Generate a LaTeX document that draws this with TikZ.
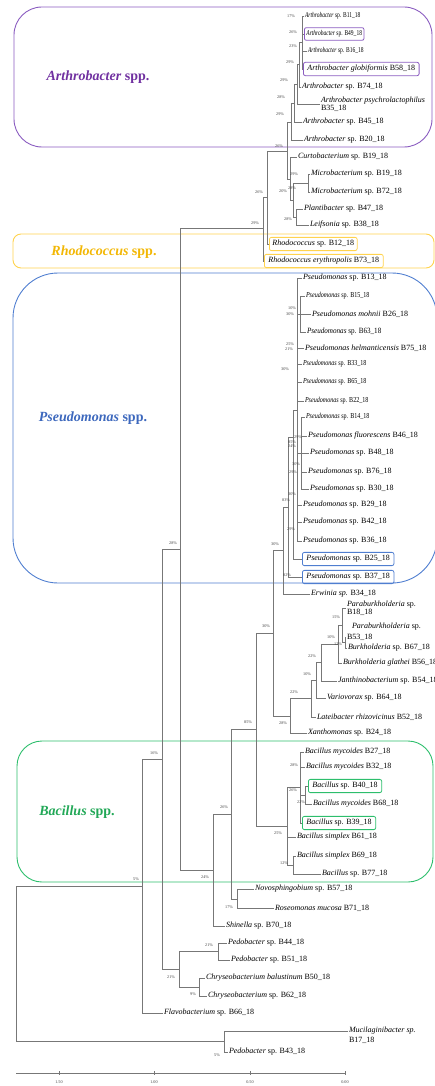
\documentclass[tikz,border=0pt]{standalone}
\usepackage{fontspec}
\usepackage{graphicx}
\setmainfont{Liberation Serif}
\definecolor{purpB}{HTML}{8A5CC0}
\definecolor{purpT}{HTML}{7030A0}
\definecolor{yelB}{HTML}{FFD34E}
\definecolor{yelT}{HTML}{F2B705}
\definecolor{bluB}{HTML}{4F7ED0}
\definecolor{bluT}{HTML}{3D68BD}
\definecolor{grnB}{HTML}{2DBE6C}
\definecolor{grnT}{HTML}{22A857}
\definecolor{treeg}{HTML}{777777}
\definecolor{bsg}{HTML}{404040}
\newcommand\LeafF{\fontsize{8}{9.5}\selectfont}
\newcommand\TwoF{\fontsize{8}{8.3}\selectfont}
\newcommand\BsF{\fontsize{4.2}{4.7}\selectfont}
\newcommand\GrpF{\fontsize{14}{16}\selectfont\bfseries}
\newcommand\Gn[1]{\textit{#1}}
\newcommand\CondA[1]{\scalebox{0.69}[0.92]{#1}}
\newcommand\CondP[1]{\scalebox{0.76}[0.95]{#1}}
\newcommand\CondM[1]{\scalebox{0.89}[1]{#1}}
\tikzset{
  br/.style={draw=treeg, line width=0.65pt},
  leaf/.style={anchor=west, inner sep=0.8pt, font=\LeafF},
  two/.style={leaf, align=left, font=\TwoF},
  bxl/.style={leaf, draw=#1, rounded corners=2pt, line width=0.8pt, inner xsep=4pt, inner ysep=3pt},
  bs/.style={font=\BsF, inner sep=0pt, text=bsg},
  grp/.style={font=\GrpF, inner sep=0pt},
  grpbox/.style={draw=#1, line width=0.9pt},
  sclab/.style={font=\BsF, inner sep=0pt, text=bsg}
}
\begin{document}
\begin{tikzpicture}[x=1pt,y=-1pt]
\useasboundingbox (0,0) rectangle (435,1086);

% ---- group boxes
\draw[grpbox=purpB, rounded corners=28pt] (14,7) rectangle (432,147);
\draw[grpbox=yelB, rounded corners=8pt] (13,234) rectangle (434,268);
\draw[grpbox=bluB, rounded corners=45pt] (13,273) rectangle (437,583);
\draw[grpbox=grnB, rounded corners=25pt] (17,741) rectangle (433,882);
\node[grp, text=purpT] (gA) at (98,77) {\textit{Arthrobacter} spp.};
\node[grp, text=yelT] (gR) at (104,252) {\textit{Rhodococcus} spp.};
\node[grp, text=bluT] (gP) at (93,418) {\textit{Pseudomonas} spp.};
\node[grp, text=grnT] (gB) at (77,812) {\textit{Bacillus} spp.};

% ---- internal nodes
\coordinate (R) at (16,963);
\coordinate (N142) at (142,886);
\coordinate (Nmuc) at (224,1041);
\coordinate (N162) at (162,759);
\coordinate (N180) at (180,549);
\coordinate (N179) at (179,969);
\coordinate (NPed) at (218,951);
\coordinate (NChr) at (199,987);
\coordinate (N263) at (263,228);
\coordinate (N267) at (267,197);
\coordinate (N287) at (287,151);
\coordinate (A5) at (291,122);
\coordinate (A4) at (294,103);
\coordinate (A3) at (297,84);
\coordinate (A2) at (299,64);
\coordinate (A1) at (302,42);
\coordinate (C0) at (290,179);
\coordinate (C1) at (293,200);
\coordinate (C2) at (296,217);
\coordinate (Mp) at (308,183);
\coordinate (N213) at (213,870);
\coordinate (N231) at (231,814);
\coordinate (NR) at (237,899);
\coordinate (N256) at (256,729);
\coordinate (N273) at (273,633);
\coordinate (N283) at (283,550);
\coordinate (Proot) at (288,507);
\coordinate (Pmain) at (293,437);
\coordinate (P2) at (297,410);
\coordinate (P3) at (300,314);
\coordinate (P5) at (301,453);
\coordinate (XG) at (290,716);
\coordinate (XL) at (311,698);
\coordinate (XV) at (316,680);
\coordinate (XJ) at (321,662);
\coordinate (XB) at (338,644);
\coordinate (XP) at (342,625);
\coordinate (XQ) at (345,642);
\coordinate (BR) at (287,826);
\coordinate (BA) at (300,787);
\coordinate (Nb40) at (305,795);
\coordinate (BS) at (293,865);

% ---- leaves: Arthrobacter
\node[leaf] (b11) at (304,16) {\CondA{\Gn{Arthrobacter} sp. B11\_18}};
\node[bxl=purpB,inner xsep=2pt] (b49) at (304,34) {\CondA{\Gn{Arthrobacter} sp. B49\_18}};
\node[leaf] (b16) at (307,51) {\CondA{\Gn{Arthrobacter} sp. B16\_18}};
\node[bxl=purpB] (b58) at (303,69) {\Gn{Arthrobacter globiformis} B58\_18};
\node[leaf] (b74) at (301,87) {\Gn{Arthrobacter} sp. B74\_18};
\node[two] (psy) at (320,104) {\Gn{Arthrobacter psychrolactophilus}\\B35\_18};
\node[leaf] (b45) at (302,122) {\Gn{Arthrobacter} sp. B45\_18};
\node[leaf] (b20) at (303,140) {\Gn{Arthrobacter} sp. B20\_18};
% Curtobacterium group
\node[leaf] (curto) at (297,157) {\Gn{Curtobacterium} sp. B19\_18};
\node[leaf] (mb19) at (310,174) {\Gn{Microbacterium} sp. B19\_18};
\node[leaf] (mb72) at (310,192) {\Gn{Microbacterium} sp. B72\_18};
\node[leaf] (plant) at (303,209) {\Gn{Plantibacter} sp. B47\_18};
\node[leaf] (leif) at (309,225) {\Gn{Leifsonia} sp. B38\_18};
% Rhodococcus
\node[bxl=yelB,inner xsep=3pt] (rb12) at (269,244) {\Gn{Rhodococcus} sp. B12\_18};
\node[bxl=yelB] (rery) at (264,261) {\Gn{Rhodococcus erythropolis} B73\_18};
% Pseudomonas
\node[leaf] (b13) at (302,278) {\Gn{Pseudomonas} sp. B13\_18};
\node[leaf] (b15) at (305,296) {\CondP{\Gn{Pseudomonas} sp. B15\_18}};
\node[leaf] (moh) at (311,314) {\Gn{Pseudomonas mohnii} B26\_18};
\node[leaf] (b63) at (306,332) {\CondM{\Gn{Pseudomonas} sp. B63\_18}};
\node[leaf] (helm) at (304,348) {\Gn{Pseudomonas helmanticensis} B75\_18};
\node[leaf] (b33) at (302,364) {\CondP{\Gn{Pseudomonas} sp. B33\_18}};
\node[leaf] (b65) at (302,382) {\CondP{\Gn{Pseudomonas} sp. B65\_18}};
\node[leaf] (b22) at (304,401) {\CondP{\Gn{Pseudomonas} sp. B22\_18}};
\node[leaf] (b14) at (305,417) {\CondP{\Gn{Pseudomonas} sp. B14\_18}};
\node[leaf] (flu) at (307,436) {\Gn{Pseudomonas fluorescens} B46\_18};
\node[leaf] (b48) at (309,453) {\Gn{Pseudomonas} sp. B48\_18};
\node[leaf] (b76) at (307,472) {\Gn{Pseudomonas} sp. B76\_18};
\node[leaf] (b30) at (309,489) {\Gn{Pseudomonas} sp. B30\_18};
\node[leaf] (b29) at (302,505) {\Gn{Pseudomonas} sp. B29\_18};
\node[leaf] (b42) at (302,522) {\Gn{Pseudomonas} sp. B42\_18};
\node[leaf] (b36) at (302,541) {\Gn{Pseudomonas} sp. B36\_18};
\node[bxl=bluB] (b25) at (302,559) {\Gn{Pseudomonas} sp. B25\_18};
\node[bxl=bluB] (b37) at (302,577) {\Gn{Pseudomonas} sp. B37\_18};
\node[leaf] (erw) at (310,594) {\Gn{Erwinia sp.} B34\_18};
% Xanthomonas group
\node[two] (pb18) at (346,608) {\Gn{Paraburkholderia} sp.\\B18\_18};
\node[leaf] (pb53a) at (351,627) {\Gn{Paraburkholderia} sp.};
\node[leaf] (pb53) at (346,637) {B53\_18};
\node[leaf] (b67) at (347,648) {\Gn{Burkholderia} sp. B67\_18};
\node[leaf] (glat) at (342,663) {\Gn{Burkholderia glathei} B56\_18};
\node[leaf] (janth) at (337,681) {\Gn{Janthinobacterium} sp. B54\_18};
\node[leaf] (vario) at (326,698) {\Gn{Variovorax} sp. B64\_18};
\node[leaf] (lat) at (316,717) {\Gn{Lateibacter rhizovicinus} B52\_18};
\node[leaf] (xan) at (307,733) {\Gn{Xanthomonas} sp. B24\_18};
% Bacillus
\node[leaf] (b27) at (304,752) {\Gn{Bacillus mycoides} B27\_18};
\node[leaf] (b32) at (305,767) {\Gn{Bacillus mycoides} B32\_18};
\node[bxl=grnB] (b40) at (308,786) {\Gn{Bacillus} sp. B40\_18};
\node[leaf] (b68) at (312,804) {\Gn{Bacillus mycoides} B68\_18};
\node[bxl=grnB] (b39) at (302,823) {\Gn{Bacillus} sp. B39\_18};
\node[leaf] (b61) at (296,837) {\Gn{Bacillus simplex} B61\_18};
\node[leaf] (b69) at (296,856) {\Gn{Bacillus simplex} B69\_18};
\node[leaf] (b77) at (321,874) {\Gn{Bacillus} sp. B77\_18};
% lower part
\node[leaf] (novo) at (254,889) {\Gn{Novosphingobium} sp. B57\_18};
\node[leaf] (roseo) at (274,908) {\Gn{Roseomonas mucosa} B71\_18};
\node[leaf] (shin) at (225,926) {\Gn{Shinella} sp. B70\_18};
\node[leaf] (p44) at (227,943) {\Gn{Pedobacter} sp. B44\_18};
\node[leaf] (p51) at (230,960) {\Gn{Pedobacter} sp. B51\_18};
\node[leaf] (chb) at (205,978) {\Gn{Chryseobacterium balustinum} B50\_18};
\node[leaf] (ch62) at (207,996) {\Gn{Chryseobacterium} sp. B62\_18};
\node[leaf] (flavo) at (163,1013) {\Gn{Flavobacterium} sp. B66\_18};
\node[leaf] (muc) at (348,1031) {\Gn{Mucilaginibacter sp.}};
\node[leaf] (muc2) at (348,1040) {B17\_18};
\node[leaf] (ped43) at (228,1052) {\Gn{Pedobacter} sp. B43\_18};

% ---- branches
\foreach \p/\c in {R/N142, R/Nmuc, N142/N162, N142/flavo, Nmuc/muc, Nmuc/ped43,
  N162/N180, N162/N179, N179/NPed, N179/NChr, NPed/p44, NPed/p51, NChr/chb, NChr/ch62,
  N180/N263, N180/N213, N263/N267, N263/rery, N267/N287, N267/rb12, N287/A5, N287/C0,
  A5/A4, A5/b20, A4/A3, A4/b45, A3/A2, A3/psy, A2/A1, A2/b74, A1/b11, A1/b49, A1/b16, A1/b58,
  C0/curto, C0/C1, C1/Mp, C1/C2, Mp/mb19, Mp/mb72, C2/plant, C2/leif,
  N213/N231, N213/shin, N231/N256, N231/NR, NR/novo, NR/roseo,
  N256/N273, N256/BR, N273/N283, N273/XG, N283/Proot, N283/erw,
  Proot/Pmain, Proot/b37, Pmain/P2, Pmain/b25,
  P2/b13, P2/helm, P2/b33, P2/b65, P2/b22, P2/b29, P2/b42, P2/b36, P2/P3, P2/P5,
  P3/b15, P3/moh, P3/b63, P5/b14, P5/flu, P5/b48, P5/b76, P5/b30,
  XG/XL, XG/xan, XL/XV, XL/lat, XV/XJ, XV/vario, XJ/XB, XJ/janth, XB/XP, XB/glat,
  XP/pb18, XP/XQ, XQ/pb53, XQ/b67,
  BR/BA, BR/b61, BR/BS, BA/b27, BA/b32, BA/Nb40, BA/b39, Nb40/b40, Nb40/b68, BS/b69, BS/b77}
  \draw[br] (\p) |- (\c);

% ---- bootstrap values
\node[bs] (s1) at (291,16) {17\%};
\node[bs] (s2) at (293,32) {26\%};
\node[bs] (s3) at (293,46) {23\%};
\node[bs] (s4) at (290,62) {29\%};
\node[bs] (s5) at (284,80) {29\%};
\node[bs] (s6) at (281,97) {28\%};
\node[bs] (s7) at (280,114) {29\%};
\node[bs] (s8) at (279,146) {26\%};
\node[bs] (s9) at (294,174) {29\%};
\node[bs] (s10) at (283,191) {20\%};
\node[bs] (s11) at (292,188) {28\%};
\node[bs] (s12) at (288,219) {28\%};
\node[bs] (s13) at (259,192) {26\%};
\node[bs] (s14) at (255,223) {29\%};
\node[bs] (s15) at (173,543) {28\%};
\node[bs] (s16) at (292,308) {10\%};
\node[bs] (s17) at (290,314) {30\%};
\node[bs] (s18) at (290,344) {25\%};
\node[bs] (s19) at (289,349) {21\%};
\node[bs] (s20) at (285,369) {30\%};
\node[bs] (s21) at (298,437) {29\%};
\node[bs] (s22) at (292,442) {85\%};
\node[bs] (s23) at (292,446) {24\%};
\node[bs] (s24) at (296,464) {30\%};
\node[bs] (s25) at (293,472) {29\%};
\node[bs] (s26) at (292,494) {30\%};
\node[bs] (s27) at (286,500) {83\%};
\node[bs] (s28) at (291,529) {29\%};
\node[bs] (s29) at (287,575) {82\%};
\node[bs] (s30) at (275,544) {30\%};
\node[bs] (s31) at (266,626) {30\%};
\node[bs] (s32) at (336,617) {15\%};
\node[bs] (s33) at (331,637) {10\%};
\node[bs] (s34) at (338,644) {12\%};
\node[bs] (s35) at (312,656) {22\%};
\node[bs] (s36) at (307,674) {10\%};
\node[bs] (s37) at (294,692) {22\%};
\node[bs] (s38) at (283,723) {28\%};
\node[bs] (s39) at (248,722) {85\%};
\node[bs] (s40) at (294,765) {28\%};
\node[bs] (s41) at (293,790) {26\%};
\node[bs] (s42) at (301,802) {22\%};
\node[bs] (s43) at (278,833) {25\%};
\node[bs] (s44) at (284,863) {12\%};
\node[bs] (s45) at (154,753) {16\%};
\node[bs] (s46) at (224,807) {26\%};
\node[bs] (s47) at (205,877) {24\%};
\node[bs] (s48) at (229,907) {17\%};
\node[bs] (s49) at (136,879) {5\%};
\node[bs] (s50) at (209,945) {21\%};
\node[bs] (s51) at (171,977) {21\%};
\node[bs] (s52) at (193,994) {9\%};
\node[bs] (s53) at (217,1055) {5\%};

% ---- scale bar
\draw[br] (16,1073) -- (345,1073);
\foreach \x in {59,154,250,345} \draw[br] (\x,1071) -- (\x,1075);
\node[sclab] (sc1) at (59,1082) {1.50};
\node[sclab] (sc2) at (154,1082) {1.00};
\node[sclab] (sc3) at (250,1082) {0.50};
\node[sclab] (sc4) at (345,1082) {0.00};
\end{tikzpicture}
\end{document}
